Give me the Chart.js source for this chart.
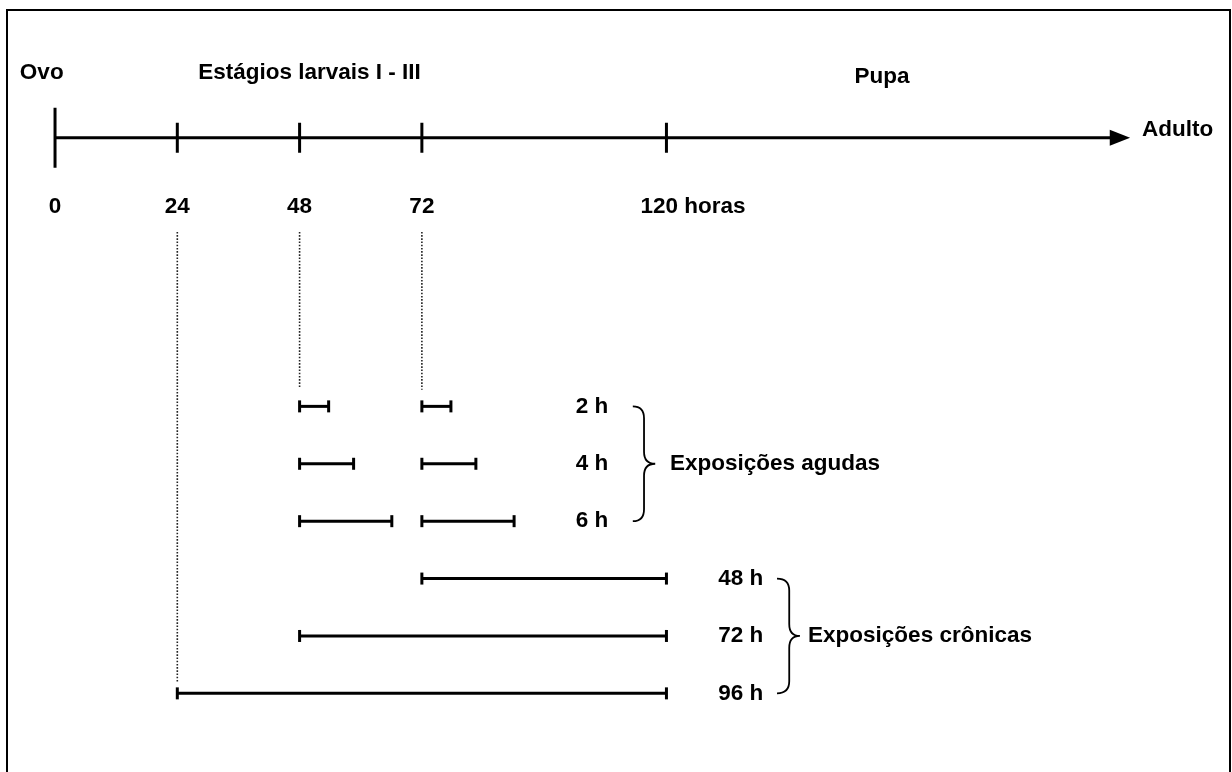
<!DOCTYPE html>
<html>
<head>
<meta charset="utf-8">
<script src="https://cdn.jsdelivr.net/npm/chart.js@4.4.1/dist/chart.umd.min.js"></script>
<style>
  html, body { margin: 0; padding: 0; background: #fff; }
  #wrap { width: 1232px; height: 772px; position: relative; }
</style>
</head>
<body>
<div id="wrap"><canvas id="timeline"></canvas></div>
<script>
// Data (hours on the time axis, rows for the exposure bars)
const tickHours = [0, 24, 48, 72, 120];
const tickLabels = ['0', '24', '48', '72', '120 horas'];
const stageLabels = ['Ovo', 'Estágios larvais I - III', 'Pupa'];
const endLabel = 'Adulto';

const acuteLabels = ['2 h', '4 h', '6 h'];
const acuteStarts = [48, 72];
// bar ends as they sit on the drawn axis
const acuteEnds48 = [53.7, 58.6, 66.1];
const acuteEnds72 = [77.7, 82.6, 90.1];
const acuteGroup = 'Exposições agudas';

const chronicLabels = ['48 h', '72 h', '96 h'];
const chronicStarts = [72, 48, 24];
const chronicEnd = 120;
const chronicGroup = 'Exposições crônicas';

const guideHours = [24, 48, 72];

// Layout (data units)
const axisY = -3.68;
const axisEnd = 207.4;
const arrowTip = 211;
const labelY = -2.47;
const stageY = -4.82;
const stageX = [-6.9, 28.1, 162.3];
const guideTop = -2.04;
const guideBottom = [5.8, 0.68, 0.71];
const acuteRows = [1, 2, 3];
const chronicRows = [4, 5, 6];
const durLabelX = 108.6;
const chronicLabelX = 139;

const FONT = 'bold 22.5px "Liberation Sans", Arial, sans-serif';
const INK = '#000';

function bar(x0, x1, y) {
    return {
        data: [{ x: x0, y: y }, { x: x1, y: y }],
        borderColor: INK,
        borderWidth: 3,
        pointStyle: 'line',
        rotation: 90,
        pointRadius: 6,
        pointBorderWidth: 3,
        pointBorderColor: INK
    };
}

const datasets = [];

// main time axis
datasets.push({
    data: [{ x: tickHours[0], y: axisY }, { x: axisEnd, y: axisY }],
    borderColor: INK, borderWidth: 3, pointRadius: 0
});
datasets.push({
    data: tickHours.map(h => ({ x: h, y: axisY })),
    showLine: false,
    pointStyle: 'line',
    rotation: 90,
    pointRadius: tickHours.map((h, i) => i === 0 ? 30 : 15),
    pointBorderWidth: 3,
    pointBorderColor: INK
});

// dotted guides
guideHours.forEach((h, i) => {
    datasets.push({
        data: [{ x: h, y: guideTop }, { x: h, y: guideBottom[i] }],
        borderColor: '#222', borderWidth: 1.6, borderDash: [1.6, 1.6], pointRadius: 0
    });
});

// acute exposures
acuteRows.forEach((r, i) => {
    datasets.push(bar(acuteStarts[0], acuteEnds48[i], r));
    datasets.push(bar(acuteStarts[1], acuteEnds72[i], r));
});

// chronic exposures
chronicRows.forEach((r, i) => {
    datasets.push(bar(chronicStarts[i], chronicEnd, r));
});

function brace(ctx, xs, ys, hook, spine, tip, top, mid, bottom) {
    const xh = xs.getPixelForValue(hook), xp = xs.getPixelForValue(spine), xt = xs.getPixelForValue(tip);
    const yt = ys.getPixelForValue(top), ym = ys.getPixelForValue(mid), yb = ys.getPixelForValue(bottom);
    const r = 12;
    ctx.beginPath();
    ctx.moveTo(xh, yt);
    ctx.quadraticCurveTo(xp, yt, xp, yt + r);
    ctx.lineTo(xp, ym - r);
    ctx.quadraticCurveTo(xp, ym, xt, ym);
    ctx.quadraticCurveTo(xp, ym, xp, ym + r);
    ctx.lineTo(xp, yb - r);
    ctx.quadraticCurveTo(xp, yb, xh, yb);
    ctx.stroke();
}

const decor = {
    id: 'decor',
    afterDraw(chart) {
        const ctx = chart.ctx;
        const xs = chart.scales.x, ys = chart.scales.y;
        ctx.save();
        ctx.strokeStyle = INK;
        ctx.fillStyle = INK;

        // frame
        ctx.lineWidth = 2;
        ctx.strokeRect(7, 10, 1223, 800);

        // arrow head
        const ay = ys.getPixelForValue(axisY);
        const ab = xs.getPixelForValue(axisEnd), at = xs.getPixelForValue(arrowTip);
        ctx.beginPath();
        ctx.moveTo(ab - 2, ay - 8);
        ctx.lineTo(at, ay);
        ctx.lineTo(ab - 2, ay + 8);
        ctx.closePath();
        ctx.fill();

        ctx.font = FONT;
        ctx.textBaseline = 'middle';

        // stage names
        ctx.textAlign = 'left';
        ctx.fillText(stageLabels[0], xs.getPixelForValue(stageX[0]), ys.getPixelForValue(stageY));
        ctx.fillText(stageLabels[1], xs.getPixelForValue(stageX[1]), ys.getPixelForValue(stageY));
        ctx.textAlign = 'center';
        ctx.fillText(stageLabels[2], xs.getPixelForValue(stageX[2]), ys.getPixelForValue(stageY + 0.07));
        ctx.textAlign = 'left';
        ctx.fillText(endLabel, at + 12, ay - 8);

        // tick labels
        tickLabels.forEach((t, i) => {
            const x = xs.getPixelForValue(tickHours[i]);
            if (i === tickLabels.length - 1) {
                ctx.textAlign = 'left';
                ctx.fillText(t, x - 26, ys.getPixelForValue(labelY));
            } else {
                ctx.textAlign = 'center';
                ctx.fillText(t, x, ys.getPixelForValue(labelY));
            }
        });

        // duration labels
        ctx.textAlign = 'right';
        acuteRows.forEach((r, i) => {
            ctx.fillText(acuteLabels[i], xs.getPixelForValue(durLabelX), ys.getPixelForValue(r));
        });
        chronicRows.forEach((r, i) => {
            ctx.fillText(chronicLabels[i], xs.getPixelForValue(chronicLabelX), ys.getPixelForValue(r));
        });

        // braces and group names
        ctx.lineWidth = 1.8;
        brace(ctx, xs, ys, 113.4, 115.6, 117.8, acuteRows[0], acuteRows[1], acuteRows[2]);
        brace(ctx, xs, ys, 141.7, 144.1, 146.2, chronicRows[0], chronicRows[1], chronicRows[2]);
        ctx.textAlign = 'left';
        ctx.fillText(acuteGroup, xs.getPixelForValue(120.7), ys.getPixelForValue(acuteRows[1]));
        ctx.fillText(chronicGroup, xs.getPixelForValue(147.8), ys.getPixelForValue(chronicRows[1]));

        ctx.restore();
    }
};

new Chart(document.getElementById('timeline'), {
    type: 'line',
    data: { datasets: datasets },
    options: {
        responsive: true,
        maintainAspectRatio: false,
        animation: false,
        events: [],
        layout: { padding: 0, autoPadding: false },
        plugins: { legend: { display: false }, tooltip: { enabled: false } },
        scales: {
            x: { type: 'linear', min: -10.8, max: 231.0, display: false },
            y: { type: 'linear', min: -6.08, max: 7.37, reverse: true, display: false }
        },
        elements: { line: { tension: 0 } }
    },
    plugins: [decor]
});
</script>
</body>
</html>
